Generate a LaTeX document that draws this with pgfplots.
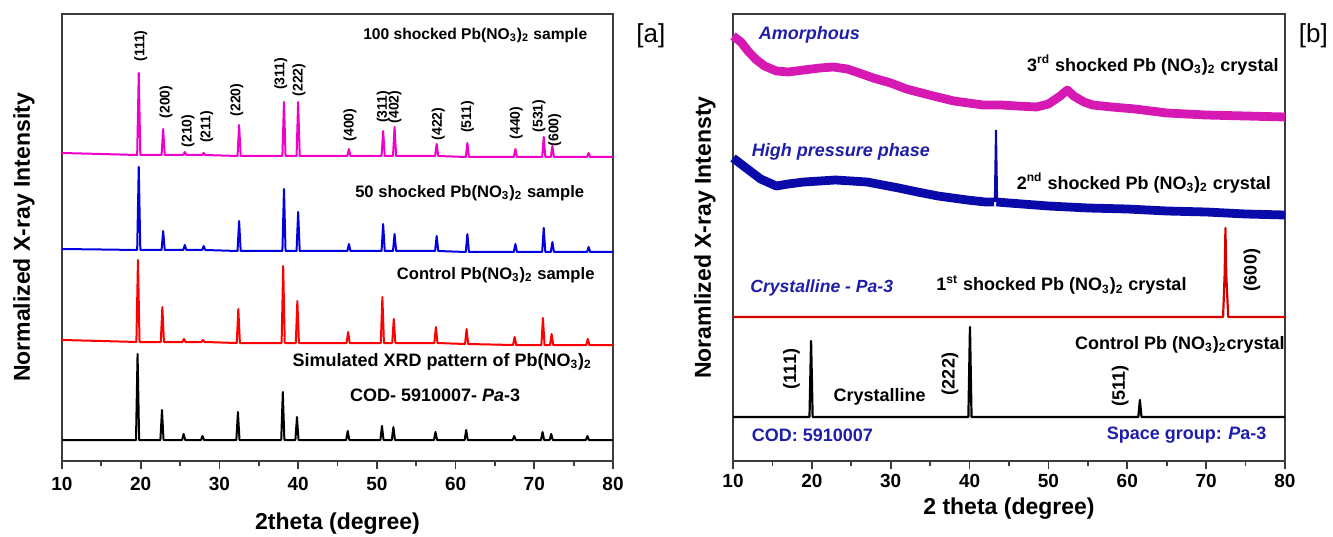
\documentclass[border=0pt]{standalone}
\usepackage{fontspec}
\setmainfont{Liberation Sans}
\usepackage{pgfplots}
\pgfplotsset{compat=1.18}

\definecolor{magA}{RGB}{240,0,200}
\definecolor{bluA}{RGB}{0,0,225}
\definecolor{redA}{RGB}{255,0,0}
\definecolor{magB}{RGB}{215,25,180}
\definecolor{bluB}{RGB}{10,10,170}
\definecolor{redB}{RGB}{215,0,0}
\definecolor{txtblue}{RGB}{30,30,170}
\definecolor{frame}{RGB}{60,60,60}

\newcommand{\pbno}{Pb(NO\textsubscript{3})\textsubscript{2}}
\newcommand{\pbsno}{Pb (NO\textsubscript{3})\textsubscript{2}}

\pgfplotsset{
  xrd/.style={
    scale only axis, height=223.5pt,
    xmin=10, xmax=80, ymin=75, ymax=522,
    xtick={10,20,...,80}, minor x tick num=1,
    tick align=outside, xtick pos=bottom, ytick=\empty,
    major tick length=4pt, minor tick length=2.5pt,
    axis line style={line width=1pt, draw=frame},
    every tick/.style={line width=0.9pt, frame},
    /pgf/number format/assume math mode=true,
    tick label style={font=\fontsize{9.5}{10}\selectfont\bfseries},
    xticklabel style={anchor=center, yshift=-7.5pt},
    label style={font=\fontsize{11.5}{13}\selectfont\bfseries},
    clip=false,
  },
}
\tikzset{
  pk/.style={rotate=90, font=\fontsize{7}{8}\selectfont\bfseries},
  pkb/.style={rotate=90, font=\fontsize{9}{10}\selectfont\bfseries},
  lab/.style={font=\fontsize{8.3}{9}\selectfont\bfseries},
  labb/.style={font=\fontsize{9}{10}\selectfont\bfseries},
}

\begin{document}
\begin{tikzpicture}
\useasboundingbox (0,0) rectangle (666.5pt,268pt);

% ---------- panel [a]
\begin{axis}[xrd, at={(31pt,37.5pt)}, anchor=south west, width=275.5pt,
  xlabel={2theta (degree)}, ylabel={Normalized X-ray Intensity},
  xlabel style={at={(axis description cs:0.5,-0.139)}, anchor=center},
  ylabel style={at={(axis description cs:-0.069,0.5)}, anchor=center}]

% 100 shocked
\addplot[magA, line width=1pt, line join=round] coordinates {
(10,383)(15,382)(19.55,381)(19.75,463)(19.95,381)(22.65,381)(22.85,407)(23.05,381)
(25.4,381)(25.6,384)(25.8,381)(27.8,381)(28.0,383)(28.2,381)(32.3,380)(32.5,411)(32.7,380)
(38.0,380)(38.2,434)(38.4,380)(39.8,380)(40.0,434)(40.2,380)(46.25,380)(46.45,387)(46.65,380)
(50.6,380)(50.8,405)(51.0,380)(52.05,380)(52.25,409)(52.45,380)(57.4,380)(57.6,392)(57.8,380)
(61.3,379)(61.5,393)(61.7,379)(67.4,379)(67.6,387)(67.8,379)(71.0,379)(71.2,399)(71.4,379)
(72.1,379)(72.3,390)(72.5,379)(76.7,379)(76.9,383)(77.1,379)(80,379)};

% 50 shocked
\addplot[bluA, line width=1pt, line join=round] coordinates {
(10,287)(15,286.5)(19.55,286)(19.75,369)(19.95,286)(22.65,286)(22.85,305)(23.05,286)
(25.4,286)(25.6,291)(25.8,286)(27.8,286)(28.0,290)(28.2,286)(32.3,285)(32.5,315)(32.7,285)
(38.0,285)(38.2,347)(38.4,285)(39.8,285)(40.0,324)(40.2,285)(46.25,285)(46.45,292)(46.65,285)
(50.6,285)(50.8,312)(51.0,285)(52.05,285)(52.25,302)(52.45,285)(57.4,285)(57.6,300)(57.8,285)
(61.3,284)(61.5,302)(61.7,284)(67.4,284)(67.6,292)(67.8,284)(71.0,284)(71.2,308)(71.4,284)
(72.1,284)(72.3,294)(72.5,284)(76.7,284)(76.9,289)(77.1,284)(80,284)};

% control
\addplot[redA, line width=1pt, line join=round] coordinates {
(10,196)(15,195)(19.45,194)(19.65,276)(19.85,194)(22.55,194)(22.75,229)(22.95,194)
(25.3,194)(25.5,197)(25.7,194)(27.7,194)(27.9,196)(28.1,194)(32.2,193)(32.4,227)(32.6,193)
(37.9,193)(38.1,270)(38.3,193)(39.7,193)(39.9,235)(40.1,193)(46.15,193)(46.35,204)(46.55,193)
(50.5,193)(50.7,239)(50.9,193)(51.95,193)(52.15,217)(52.35,193)(57.3,193)(57.5,209)(57.7,193)
(61.2,192)(61.4,207)(61.6,192)(67.3,191)(67.5,199)(67.7,191)(70.9,191)(71.1,218)(71.3,191)
(72.0,191)(72.2,202)(72.4,191)(76.6,191)(76.8,197)(77.0,191)(80,191)};

% simulated
\addplot[black, line width=1pt, line join=round] coordinates {
(10,96)(19.4,96)(19.6,182)(19.8,96)(22.5,96)(22.7,126)(22.9,96)
(25.25,96)(25.45,102)(25.65,96)(27.65,96)(27.85,100)(28.05,96)(32.15,96)(32.35,124)(32.55,96)
(37.85,96)(38.05,144)(38.25,96)(39.65,96)(39.85,119)(40.05,96)(46.1,96)(46.3,105)(46.5,96)
(50.45,96)(50.65,110)(50.85,96)(51.9,96)(52.1,109)(52.3,96)(57.25,96)(57.45,104)(57.65,96)
(61.15,96)(61.35,106)(61.55,96)(67.25,96)(67.45,100)(67.65,96)(70.85,96)(71.05,104)(71.25,96)
(71.95,96)(72.15,102)(72.35,96)(76.55,96)(76.75,100)(76.95,96)(80,96)};

\node[lab, font=\fontsize{7.8}{9}\selectfont\bfseries] at (axis cs:62.5,501) {100 shocked \pbno{} sample};
\node[lab] at (axis cs:61.8,343) {50 shocked \pbno{} sample};
\node[lab] at (axis cs:65.1,261) {Control \pbno{} sample};
\node[lab, font=\fontsize{9}{10}\selectfont\bfseries] at (axis cs:58.3,174) {Simulated XRD pattern of \pbno};
\node[lab, font=\fontsize{9}{10}\selectfont\bfseries] at (axis cs:57.4,141) {COD- 5910007- \textit{Pa}-3};

\node[pk] at (axis cs:20.0,490) {(111)};
\node[pk] at (axis cs:23.2,434) {(200)};
\node[pk] at (axis cs:26.0,405) {(210)};
\node[pk] at (axis cs:28.4,409) {(211)};
\node[pk] at (axis cs:32.2,436) {(220)};
\node[pk] at (axis cs:37.8,462) {(311)};
\node[pk] at (axis cs:40.1,456) {(222)};
\node[pk] at (axis cs:46.6,411) {(400)};
\node[pk] at (axis cs:50.8,429) {(311)};
\node[pk] at (axis cs:52.3,429) {(402)};
\node[pk] at (axis cs:57.8,412) {(422)};
\node[pk] at (axis cs:61.5,419) {(511)};
\node[pk] at (axis cs:67.7,413) {(440)};
\node[pk] at (axis cs:70.6,420) {(531)};
\node[pk] at (axis cs:72.6,406) {(600)};

\node[font=\fontsize{13}{14}\selectfont] at (axis cs:84.8,500) {[a]};
\end{axis}

% ---------- panel [b]
\begin{axis}[xrd, at={(366.5pt,37.5pt)}, anchor=south west, width=276pt,
  xlabel={2 theta (degree)}, ylabel={Noramlized X-ray Intensty},
  xlabel style={at={(axis description cs:0.5,-0.107)}, anchor=center},
  ylabel style={at={(axis description cs:-0.051,0.5)}, anchor=center},
  xticklabel style={yshift=1.5pt}]

% 3rd shocked (amorphous)
\addplot[magB, line width=4.4pt, line join=round] coordinates {
(10,500)(11,494)(12,484)(13,476)(14,470)(15.5,465)(17,464)(19,466)(21,468)(22.7,469)
(24.5,467)(26,463)(27.8,458)(30,453)(32,447)(35.4,440)(38,435)(41.7,431)(44,431)(46,430)
(48.5,429)(50,432)(51.5,440)(52.4,446)(53.2,440)(54.5,434)(55.6,431)(58,429)(61,427)
(65,423)(70,421)(75,420)(80,419)};

% 2nd shocked (high pressure phase)
\addplot[bluB, line width=4.4pt, line join=round] coordinates {
(10,378)(11,372)(12,366)(13.5,357)(15.5,350)(17,352)(19,354)(21,355)(23,356)(25,355)
(27,354)(29,351)(31,348)(33.4,344)(36,340)(39.7,336)(42,334)(43.1,334)};
\addplot[bluB, line width=1pt] coordinates {(43.2,334)(43.35,406)(43.5,334)};
\addplot[bluB, line width=4.4pt, line join=round] coordinates {
(43.4,334)(45,333)(50,330)(55,328)(60,327)(65,325)(70,324)(75,322)(80,321)};

% 1st shocked
\addplot[redB, line width=1.1pt, line join=round] coordinates {
(10,219)(72.15,219)(72.35,262)(72.45,308)(72.55,262)(72.8,219)(80,219)};

% control crystal
\addplot[black, line width=1.1pt, line join=round] coordinates {
(10,119)(19.7,119)(19.9,195)(20.1,119)(39.85,119)(40.05,209)(40.25,119)
(61.4,119)(61.6,136)(61.8,119)(80,119)};

\node[anchor=west, txtblue, font=\fontsize{9}{10}\selectfont\bfseries\itshape] at (axis cs:12.4,501) {Amorphous};
\node[anchor=west, txtblue, font=\fontsize{9}{10}\selectfont\bfseries\itshape] at (axis cs:11.5,384) {High pressure phase};
\node[anchor=west, txtblue, font=\fontsize{8.8}{10}\selectfont\bfseries\itshape] at (axis cs:11.3,248) {Crystalline - \textit{Pa}-3};
\node[anchor=west, labb] at (axis cs:46.4,471) {3\textsuperscript{rd} shocked \pbsno{} crystal};
\node[anchor=west, labb] at (axis cs:45.1,353) {2\textsuperscript{nd} shocked \pbsno{} crystal};
\node[anchor=west, labb] at (axis cs:34.9,251) {1\textsuperscript{st} shocked \pbsno{} crystal};
\node[anchor=east, labb, inner sep=0pt] at (axis cs:80,191) {Control \pbsno crystal};
\node[labb] at (axis cs:28.6,139) {Crystalline};
\node[pkb] at (axis cs:75.8,266) {(600)};
\node[pkb] at (axis cs:17.4,167) {(111)};
\node[pkb] at (axis cs:37.5,162) {(222)};
\node[pkb] at (axis cs:59.1,150) {(511)};
\node[anchor=west, txtblue, labb] at (axis cs:11.5,101) {COD: 5910007};
\node[anchor=west, txtblue, labb] at (axis cs:56.5,101) {Space group: \textit{P}a-3};

\node[font=\fontsize{13}{14}\selectfont] at (axis cs:83.6,500) {[b]};
\end{axis}
\end{tikzpicture}
\end{document}
